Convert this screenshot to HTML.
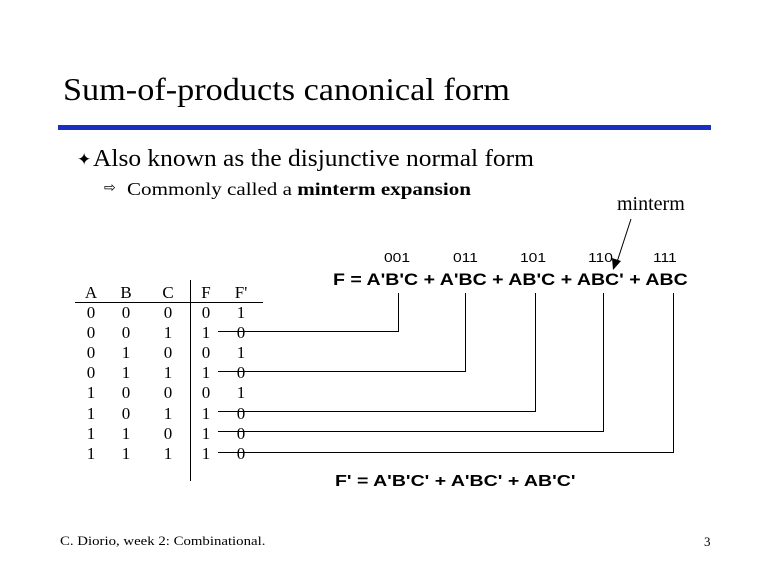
<!DOCTYPE html>
<html><head><style>
body{margin:0;width:768px;height:576px;background:#fff;position:relative;overflow:hidden;font-family:"Liberation Serif",serif;color:#000}
.a{position:absolute;white-space:nowrap;line-height:1;transform-origin:0 0}
.s{font-family:"Liberation Sans",sans-serif}
.t{position:absolute;font-size:17px;width:20px;text-align:center;line-height:1}
</style></head><body>
<div class="a" style="left:63px;top:73px;font-size:32px;transform:scaleX(1.07)">Sum-of-products canonical form</div>
<div class="a" style="left:58px;top:125px;width:653px;height:5px;background:#1a2fc0"></div>
<div class="a" style="left:77px;top:151px;font-size:17px">✦</div>
<div class="a" style="left:93px;top:147px;font-size:24px;transform:scaleX(1.06)">Also known as the disjunctive normal form</div>
<div class="a" style="left:104px;top:182px;font-size:14px">⇨</div>
<div class="a" style="left:127px;top:180px;font-size:18px;transform:scaleX(1.17)">Commonly called a <b>minterm expansion</b></div>
<div class="a" style="left:617px;top:194px;font-size:20px">minterm</div>
<div class="a s" style="left:384px;top:251px;font-size:13px;transform:scaleX(1.2)">001</div>
<div class="a s" style="left:453px;top:251px;font-size:13px;transform:scaleX(1.2)">011</div>
<div class="a s" style="left:520px;top:251px;font-size:13px;transform:scaleX(1.2)">101</div>
<div class="a s" style="left:588px;top:251px;font-size:13px;transform:scaleX(1.2)">110</div>
<div class="a s" style="left:653px;top:251px;font-size:13px;transform:scaleX(1.2)">111</div>
<div class="a s" style="left:333px;top:271px;font-size:17px;font-weight:bold;transform:scaleX(1.15)">F = A'B'C + A'BC + AB'C + ABC' + ABC</div>
<div class="a s" style="left:335px;top:474px;font-size:16px;font-weight:bold;transform:scaleX(1.22)">F' = A'B'C' + A'BC' + AB'C'</div>
<div id="tbl"></div>
<svg class="a" style="left:0;top:0" width="768" height="576">
<g stroke="#000" stroke-width="1" fill="none">
<line x1="75" y1="302.5" x2="263" y2="302.5"/>
<line x1="190.5" y1="280" x2="190.5" y2="481"/>
<polyline points="218,331.5 398.5,331.5 398.5,293"/>
<polyline points="218,371.5 465.5,371.5 465.5,293"/>
<polyline points="218,411.5 535.5,411.5 535.5,293"/>
<polyline points="218,431.5 603.5,431.5 603.5,293"/>
<polyline points="218,452.5 673.5,452.5 673.5,293"/>
<line x1="631" y1="219" x2="617" y2="262"/>
</g>
<polygon points="613,270 612,258 621,261" fill="#000"/>
</svg>
<div class="a" style="left:60px;top:534px;font-size:13px;transform:scaleX(1.14)">C. Diorio, week 2: Combinational.</div>
<div class="a" style="left:704px;top:535px;font-size:13px">3</div>
<script>
var cols=[85,120,162,200,235],hd=["A","B","C","F","F'"];
var rows=["00001","00110","01001","01110","10001","10110","11010","11110"];
var h="";
for(var c=0;c<5;c++){h+='<div class="t" style="left:'+(cols[c]-4)+'px;top:284px">'+hd[c]+'</div>';
for(var r=0;r<8;r++)h+='<div class="t" style="left:'+(cols[c]-4)+'px;top:'+(304+r*20.1)+'px">'+rows[r][c]+'</div>';}
document.getElementById("tbl").outerHTML=h;
</script>
</body></html>
